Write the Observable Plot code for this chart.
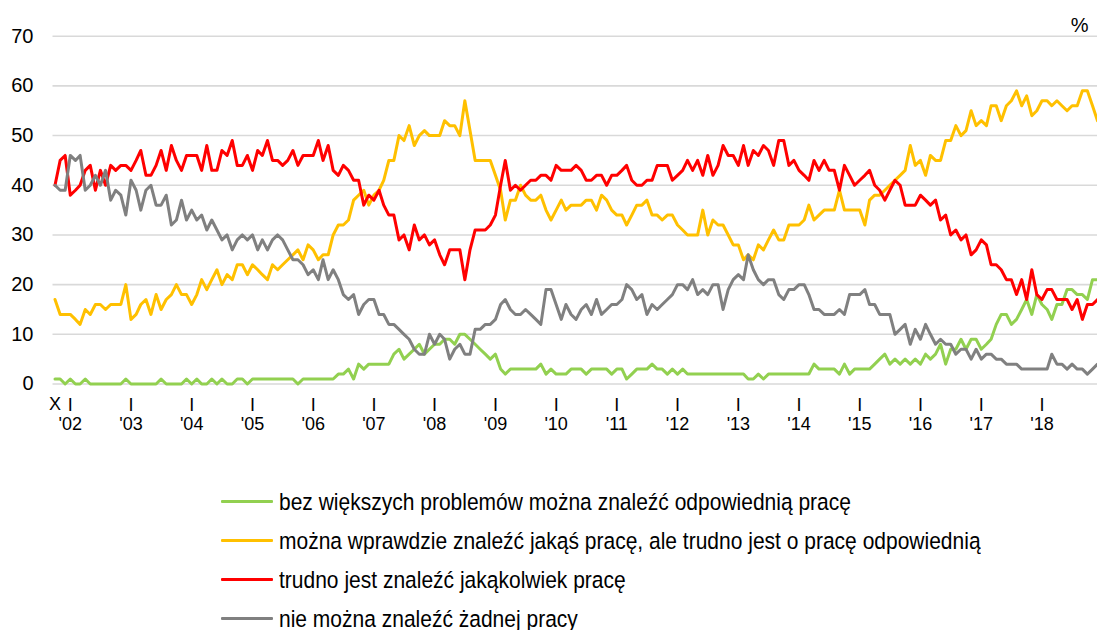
<!DOCTYPE html>
<html><head><meta charset="utf-8">
<script src="https://cdn.jsdelivr.net/npm/d3@7"></script>
<script src="https://cdn.jsdelivr.net/npm/@observablehq/plot@0.6"></script>
<style>
body{margin:0;background:#fff;font-family:"Liberation Sans",Arial,sans-serif;}
#chart{width:1097px;height:460px;}
.legend{margin-left:221px;margin-top:22px;}
.item{height:39px;display:flex;align-items:center;font-size:21px;color:#000;white-space:nowrap;}
.sw{width:52px;height:3px;margin-right:6px;border-radius:1px;}
.tx{display:inline-block;transform:scaleY(1.1);}
</style></head><body>
<div id="chart"></div>
<div class="legend" id="legend"></div>
<script>
const seriesNames = [
  "bez większych problemów można znaleźć odpowiednią pracę",
  "można wprawdzie znaleźć jakąś pracę, ale trudno jest o pracę odpowiednią",
  "trudno jest znaleźć jakąkolwiek pracę",
  "nie można znaleźć żadnej pracy"
];
const colors = ["#92d050", "#ffc000", "#ff0000", "#808080"];

// monthly values, October 2001 .. December 2018
const green = [
1,1,0,1,0,0,1,0,0,0,0,0,0,0,1,0,0,0,0,0,0,1,0,0,0,0,1,0,1,
0,0,1,0,1,0,0,1,1,0,1,1,1,1,1,1,1,1,1,0,1,1,1,1,1,1,1,2,2,3,1,4,3,4,4,4,
4,4,6,7,5,6,7,8,6,7,8,8,9,9,8,10,10,9,8,7,6,5,6,3,2,3,3,3,3,3,3,4,2,3,2,2,
2,3,3,3,2,3,3,3,3,2,3,3,1,2,3,3,3,4,3,3,2,3,2,3,2,2,2,2,2,2,2,2,2,2,2,
2,1,1,2,1,2,2,2,2,2,2,2,2,2,4,3,3,3,3,2,4,2,3,3,3,3,4,5,6,4,5,4,5,4,5,4,
6,5,6,8,4,7,7,9,7,9,9,7,8,9,12,14,14,12,13,15,17,14,18,16,15,13,16,16,19,19,18,18,17,21,21
];
const yellow = [
17,14,14,14,13,12,15,14,16,16,15,16,16,16,20,13,14,16,17,14,18,15,17,18,20,18,18,16,18,
21,19,21,23,20,22,21,24,24,22,24,23,22,21,24,23,24,25,26,27,25,28,27,25,26,26,30,32,32,33,37,38,39,36,38,39,
41,45,45,50,49,52,48,50,51,50,50,50,53,52,52,50,57,51,45,45,45,45,42,39,33,37,37,40,38,37,37,38,35,33,35,37,
35,36,36,36,37,37,35,38,37,35,34,34,32,34,36,36,37,34,34,33,34,34,32,31,30,30,30,35,30,33,32,32,30,28,28,
25,26,25,28,27,29,31,29,29,32,32,32,33,36,33,34,35,35,35,39,35,35,35,35,32,37,38,38,39,40,41,42,43,48,44,45,
42,46,45,45,49,49,52,50,51,55,52,53,52,56,56,53,56,57,59,56,58,54,55,57,57,56,57,56,55,56,56,59,59,56,53
];
const red = [
40,45,46,38,39,40,43,44,39,43,40,44,43,44,44,43,45,47,42,42,44,47,43,48,45,43,46,46,46,
43,48,43,43,47,46,49,44,44,46,43,47,46,49,45,45,44,45,47,44,46,46,46,49,45,48,43,42,44,43,41,41,36,38,37,39,
36,34,34,29,30,27,32,29,30,28,29,26,24,27,27,27,21,27,31,31,31,32,34,40,45,39,40,39,40,41,41,42,42,41,44,43,
43,43,44,43,41,41,42,42,40,42,42,43,44,41,40,40,41,41,44,44,44,41,42,43,45,43,45,42,46,42,44,48,46,46,44,
48,44,47,46,48,47,44,49,49,44,45,43,42,41,45,43,45,43,43,39,44,42,40,41,42,43,40,39,37,39,41,40,36,36,36,38,
37,36,37,33,34,30,31,29,30,26,27,29,28,24,24,23,21,21,18,21,17,23,18,17,19,19,17,17,17,15,17,13,16,16,17
];
const grey = [
40,39,39,46,45,46,39,40,42,40,43,37,39,38,34,41,39,35,39,40,36,36,38,32,33,37,33,35,33,
34,31,33,31,29,30,27,29,30,29,30,27,29,27,29,30,29,27,25,25,24,22,23,21,25,21,23,21,18,17,18,14,16,17,17,14,
14,12,12,11,10,9,7,6,6,10,8,10,9,5,7,8,6,6,11,11,12,12,13,16,17,15,14,14,15,14,13,12,19,19,16,13,
16,14,13,15,16,14,17,14,15,16,16,17,20,19,17,18,14,16,15,16,17,18,20,20,19,21,18,19,18,20,20,15,19,21,22,
21,26,23,21,20,21,21,18,17,19,19,20,20,18,15,15,14,14,14,15,14,18,18,18,19,16,16,14,14,14,10,11,12,8,11,9,
12,10,8,9,8,8,6,7,7,5,7,5,6,6,5,5,4,4,4,3,3,3,3,3,3,6,4,4,3,4,3,3,2,3,4
];
const seriesValues = [green, yellow, red, grey];

const yTicks = [0, 10, 20, 30, 40, 50, 60, 70];
const years = [2002,2003,2004,2005,2006,2007,2008,2009,2010,2011,2012,2013,2014,2015,2016,2017,2018];
const yearLabels = ["'02","'03","'04","'05","'06","'07","'08","'09","'10","'11","'12","'13","'14","'15","'16","'17","'18"];
const monthLabel = "I";   // January marker above each year
const startLabel = "X";   // October 2001

const dates = red.map((_, i) => new Date(Date.UTC(2001, 9 + i, 1)));
const yearDates = years.map(y => new Date(Date.UTC(y, 0, 1)));
const tickText = yearLabels.map(l => monthLabel + "\n" + l);

const rows = [];
seriesNames.forEach((name, k) => seriesValues[k].forEach((v, i) => rows.push({date: dates[i], value: v, series: name})));

const chart = Plot.plot({
  width: 1097,
  height: 460,
  marginTop: 35.7,
  marginBottom: 76.5,
  marginLeft: 54.5,
  marginRight: 0,
  style: {fontFamily: "Liberation Sans, Arial, sans-serif", background: "#fff", color: "#000", overflow: "visible"},
  x: {type: "utc", domain: [dates[0], dates[dates.length - 1]], axis: null},
  y: {domain: [0, 70], axis: null},
  color: {domain: seriesNames, range: colors},
  marks: [
    Plot.ruleY(yTicks, {stroke: "#d9d9d9", strokeWidth: 1.6, insetLeft: -2}),
    Plot.axisY(yTicks, {tickSize: 0, tickPadding: 21.5, fontSize: 20, label: null}),
    Plot.text([dates[0]], {x: d => d, text: [startLabel], frameAnchor: "bottom", lineAnchor: "middle", dy: 20.5, fontSize: 18}),
    Plot.text(yearDates, {x: d => d, text: tickText, frameAnchor: "bottom", lineAnchor: "middle", lineHeight: 1.08, dy: 30.2, fontSize: 18}),
    Plot.text(["%"], {frameAnchor: "top-right", lineAnchor: "middle", dx: -9, dy: -11, textAnchor: "end", fontSize: 20}),
    Plot.lineY(rows, {x: "date", y: "value", z: "series", stroke: "series", strokeWidth: 3, strokeLinejoin: "round"})
  ]
});
document.getElementById("chart").appendChild(chart);

const legend = document.getElementById("legend");
seriesNames.forEach((name, k) => {
  const item = document.createElement("div");
  item.className = "item";
  const sw = document.createElement("span");
  sw.className = "sw";
  sw.style.background = colors[k];
  const tx = document.createElement("span");
  tx.className = "tx";
  tx.textContent = name;
  item.appendChild(sw);
  item.appendChild(tx);
  legend.appendChild(item);
});
</script>
</body></html>
